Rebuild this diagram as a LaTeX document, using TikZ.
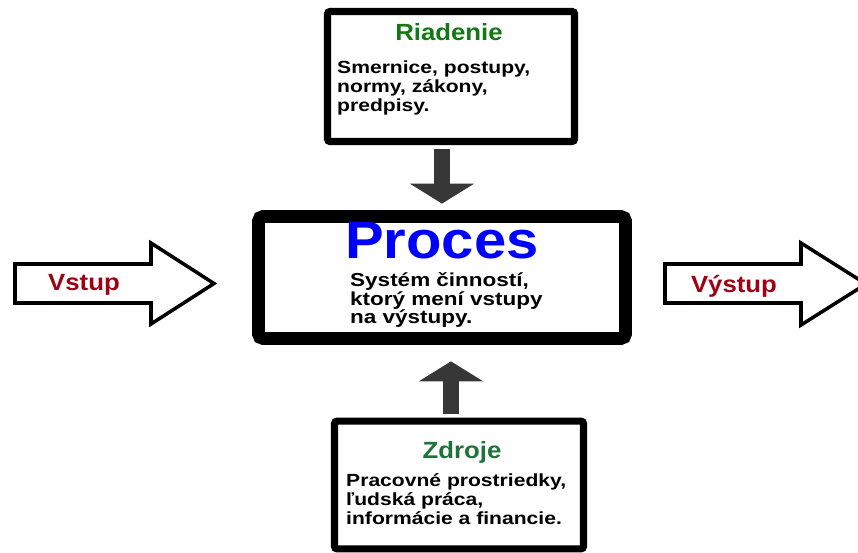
\documentclass[tikz,border=0pt]{standalone}
\usepackage{fontspec}
\setmainfont{Liberation Sans}
\newfontfamily\bodyfont{Liberation Sans}[FakeStretch=1.2]
\newfontfamily\headfont{Liberation Sans}[FakeStretch=1.1]
\usetikzlibrary{positioning}
\usetikzlibrary{arrows.meta}
\definecolor{riadgreen}{RGB}{20,120,20}
\definecolor{zdrgreen}{RGB}{30,115,55}
\definecolor{vstred}{RGB}{160,0,20}
\definecolor{arrgray}{RGB}{55,55,55}
\tikzset{
  panel/.style={draw=black, fill=white, line width=6pt, rounded corners=2pt, inner sep=0pt},
  headtxt/.style={font=\headfont\bfseries\fontsize{20pt}{20pt}\selectfont, inner sep=0pt},
  bodytxt/.style={font=\bodyfont\bfseries\fontsize{15pt}{16pt}\selectfont, align=left, anchor=west, inner sep=0pt},
  flowarrow/.style={draw=black, fill=white, line width=3pt, line join=miter},
  feedarrow/.style={draw=arrgray, line width=13.6pt, -{Triangle[width=54pt,length=17pt]}},
}

\begin{document}
\begin{tikzpicture}[x=0.03cm,y=-0.03cm]
  \clip (0,0) rectangle (858,552);
  \fill[white] (0,0) rectangle (858,552);
  % the three boxes
  \node[panel, minimum width=7.41cm, minimum height=3.9cm] (riad) at (451,76.5) {};
  \node[panel, line width=11pt, rounded corners=4pt, minimum width=11.01cm, minimum height=3.66cm] (proc) at (442,277.5) {};
  \node[panel, minimum width=7.47cm, minimum height=3.83cm] (zdr) at (459,485) {};
  % dark arrows into the process
  \draw[feedarrow, shorten <=3pt, shorten >=5.5pt] (riad.south -| proc.north) -- (proc.north);
  \draw[feedarrow, shorten <=3pt, shorten >=14pt] ([xshift=-0.24cm]zdr.north) -- ([xshift=-0.24cm]zdr.north |- proc.south);
  % texts
  \node[headtxt, text=riadgreen] (riadhead) at (449,32) {Riadenie};
  \node[bodytxt] (riadtxt) at (337,88) {Smernice, postupy,\\normy, zákony,\\predpisy.};
  \node[font=\headfont\bfseries\fontsize{45pt}{45pt}\selectfont, text=blue, inner sep=0pt] (prochead) at (442,241) {Proces};
  \node[bodytxt, font=\bodyfont\bfseries\fontsize{16pt}{16pt}\selectfont] (proctxt) at (350,300) {Systém činností,\\ktorý mení vstupy\\na výstupy.};
  \node[headtxt, text=zdrgreen] (zdrhead) at (462,452) {Zdroje};
  \node[bodytxt] (zdrtxt) at (346,499) {Pracovné prostriedky,\\ľudská práca,\\informácie a financie.};
  % input and output
  \draw[flowarrow] (15,264) -- (151,264) -- (151,243) -- (214,283.5) -- (151,324) -- (151,303) -- (15,303) -- cycle;
  \node[headtxt, text=vstred] (vstup) at (84,285) {Vstup};
  \draw[flowarrow] (665,264) -- (801,264) -- (801,243) -- (866,284) -- (801,325) -- (801,303) -- (665,303) -- cycle;
  \node[headtxt, text=vstred] (vystup) at (734,286) {Výstup};
\end{tikzpicture}
\end{document}
